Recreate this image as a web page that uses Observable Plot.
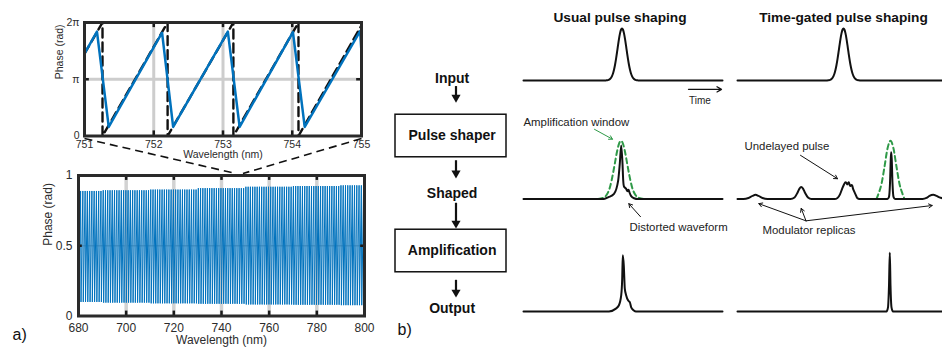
<!DOCTYPE html>
<html><head><meta charset="utf-8">
<script src="https://cdn.jsdelivr.net/npm/d3@7"></script>
<script src="https://cdn.jsdelivr.net/npm/@observablehq/plot@0.6"></script>
<style>
html,body{margin:0;padding:0;background:#fff;}
#fig{position:relative;width:942px;height:349px;overflow:hidden;background:#fff;}
#fig svg{position:absolute;left:0;top:0;}
</style></head><body><div id="fig"></div>
<script>
// ---------------- DATA ----------------
// (a) inset: realised phase (blue) and ideal wrapped phase (dashed), in units of pi
const insetBlueNm = [751, 751.18, 751.35, 752.12, 752.28, 753.07, 753.24, 754.01, 754.18, 754.98, 755];
const insetBluePhasePi = [1.45, 1.84, 0.16, 1.82, 0.16, 1.84, 0.16, 1.83, 0.16, 1.85, 1.47];
const insetIdealNm = [751, 751.26, 751.26, 752.2, 752.2, 753.15, 753.15, 754.09, 754.09, 755];
const insetIdealPhasePi = [1.45, 2, 0, 2, 0, 2, 0, 2, 0, 1.95];
const insetXTicks = [751, 752, 753, 754, 755];
const insetGridNm = [752, 753, 754];
const insetYTickPi = [0, 1, 2];
const insetYTickLabels = ["0", "π", "2π"];
// (a) full spectrum: wrapped phase, normalised 0..1
const wrapPeriodNm = 0.95;      // wrap period
const wrapPeakRefNm = 751.18;   // one wrap (peak) position
const wrapFallNm = 0.17;        // width of the fall after each peak
const envelopeNm = [680, 700, 720, 740, 760, 780, 800];
const envelopePeak = [0.89, 0.895, 0.9, 0.91, 0.92, 0.925, 0.93];
const envelopeTrough = [0.10, 0.095, 0.09, 0.087, 0.082, 0.08, 0.077];
const bottomXTicks = [680, 700, 720, 740, 760, 780, 800];
const bottomGridNm = [700, 720, 740, 760, 780];
const bottomYTicks = [0, 0.5, 1];
const zoomFromNm = [751, 755];
const zoomToNm = [746, 749];
// (b) flow chart
const flowStages = ["Input", "Pulse shaper", "Shaped", "Amplification", "Output"];
const flowBoxStages = [1, 3];
const flowArrowFrom = [0.14, 1.43, 2.17, 3.51];
const flowArrowTo = [0.42, 1.74, 2.61, 3.81];
// (b) waveforms: time (a.u.) and amplitude (input peak = 1)
const inputPulseT = [-18,-16,-14,-12,-10,-9,-8,-7,-6,-5,-4,-3,-2,-1,0,1,2,3,4,5,6,7,8,9,10,12,14,16,18];
const inputPulseA = [0,0.002,0.008,0.029,0.085,0.135,0.206,0.298,0.411,0.539,0.674,0.801,0.906,0.976,1,0.976,0.906,0.801,0.674,0.539,0.411,0.298,0.206,0.135,0.085,0.029,0.008,0.002,0];
const usualShapedT = [-98.5, -18, -13.5, -8, -3.8, -2.2, -0.8, 0.5, 1.2, 2, 4, 5.5, 6.5, 7.5, 9, 12, 16, 100.5];
const usualShapedA = [0, 0, 0.035, 0.1, 0.36, 0.68, 1.03, 0.68, 0.36, 0.24, 0.2, 0.15, 0.18, 0.125, 0.06, 0.015, 0, 0];
const usualWindowT = [-24,-19,-15,-12,-9,-7,-5,-3,-1,1,3,5,7,10,13,17,22];
const usualWindowA = [0,0.02,0.09,0.23,0.49,0.7,0.91,1.06,1.12,1.06,0.91,0.7,0.49,0.23,0.09,0.02,0];
const usualOutputT = [-98.5, -13, -6.5, -3.2, -0.8, 0.2, 0.8, 1.8, 2.8, 4.2, 6.2, 7.8, 9.2, 11.8, 14, 100.5];
const usualOutputA = [0, 0, 0.05, 0.115, 0.31, 0.63, 1.08, 0.88, 0.44, 0.31, 0.21, 0.18, 0.08, 0.02, 0, 0];
const gatedShapedT = [-106,-100,-95,-91,-88,-85,-81,-76,-53,-49,-46,-44,-42.3,-40.5,-38.5,-35.5,-32,-9,-6,-3.5,-1.3,0.5,2,3,3.7,4.5,5.3,6.2,7,8,8.7,9.5,10.3,12,13.7,16,44,45.5,46.5,47.3,47.7,48.2,49,50,51.5,79,83,86,89.7,93,96,99];
const gatedShapedA = [0,0,0.02,0.06,0.08,0.06,0.02,0,0,0.03,0.12,0.2,0.23,0.2,0.12,0.03,0,0,0.02,0.09,0.2,0.28,0.32,0.31,0.28,0.3,0.32,0.27,0.25,0.27,0.26,0.2,0.16,0.09,0.02,0,0,0.04,0.3,0.78,0.9,0.78,0.3,0.04,0,0,0.02,0.06,0.08,0.06,0.03,0.015];
const gatedWindowT = [33,35,38,41,44,47,50,53,56,59,61];
const gatedWindowA = [0,0.1,0.29,0.62,0.97,1.12,0.97,0.62,0.29,0.1,0];
const gatedOutputT = [-106, 43, 44.5, 45.5, 46.3, 47, 48, 49.5, 99];
const gatedOutputA = [0, 0, 0.08, 0.5, 1.13, 0.5, 0.08, 0, 0];

// ---------------- LAYOUT / HELPERS ----------------
const W = 942, H = 349, AMP_PX = 52;
const FONT = "'Liberation Sans', Arial, Helvetica, sans-serif";
const fig = document.getElementById("fig");
const base = {width: W, height: H, style: {background: "transparent", overflow: "visible", fontFamily: FONT, color: "#2b2b2b"}};
function add(p) { p.style.position = "absolute"; p.style.left = "0px"; p.style.top = "0px"; fig.appendChild(p); return p; }
const pts = (xs, ys) => xs.map((x, i) => ({x, y: ys[i]}));
const pulseIn = (t0, t1) => [{x: t0, y: 0}, ...pts(inputPulseT, inputPulseA), {x: t1, y: 0}];
const BLUE = "#0072bd", GREEN = "#2f9a48", INK = "#111";

// ---------------- (a) inset ----------------
const inset = add(Plot.plot({...base,
  marginLeft: 84, marginRight: W - 361, marginTop: 22, marginBottom: H - 135.5,
  x: {domain: [751, 755], label: null}, y: {domain: [0, 2], label: null},
  marks: [
    Plot.ruleX(insetGridNm, {stroke: "#cdcdcd", strokeWidth: 3}),
    Plot.ruleY([1], {stroke: "#cdcdcd", strokeWidth: 3}),
    Plot.line(pts(insetIdealNm, insetIdealPhasePi), {x: "x", y: "y", stroke: INK, strokeWidth: 2.4, strokeDasharray: "9,5", clip: true}),
    Plot.line(pts(insetBlueNm, insetBluePhasePi), {x: "x", y: "y", stroke: BLUE, strokeWidth: 2.5}),
    Plot.ruleX(insetGridNm, {y1: 2, y2: 1.91, stroke: "#1a1a1a", strokeWidth: 2.5}),
    Plot.ruleX(insetGridNm, {y1: 0, y2: 0.09, stroke: "#1a1a1a", strokeWidth: 2.5}),
    Plot.ruleY([1], {x1: 751, x2: 751.07, stroke: "#1a1a1a", strokeWidth: 2.5}),
    Plot.ruleY([1], {x1: 754.93, x2: 755, stroke: "#1a1a1a", strokeWidth: 2.5}),
    Plot.frame({stroke: "#2a2a2a", strokeWidth: 3}),
    Plot.axisX({ticks: insetXTicks, tickSize: 0, tickPadding: 5, fontSize: 10.5, label: null, tickFormat: d => String(d)}),
    Plot.axisY({ticks: insetYTickPi, tickSize: 0, tickPadding: 5, fontSize: 10.5, label: null, tickFormat: d => insetYTickLabels[insetYTickPi.indexOf(d)]}),
    Plot.text(["Wavelength (nm)"], {frameAnchor: "bottom", dy: 21.5, fontSize: 10.5, fill: "#2b2b2b"}),
    Plot.text(["Phase (rad)"], {frameAnchor: "left", dx: -25, rotate: -90, fontSize: 10.5, fill: "#2b2b2b"})
  ]
}));

// ---------------- (a) full spectrum ----------------
const spectrum = [];
{
  const kMin = Math.floor((envelopeNm[0] - wrapPeakRefNm) / wrapPeriodNm) - 1;
  const kMax = Math.ceil((envelopeNm[envelopeNm.length - 1] - wrapPeakRefNm) / wrapPeriodNm) + 1;
  for (let k = kMin; k <= kMax; k++) {
    const p = wrapPeakRefNm + k * wrapPeriodNm;
    const j = d3.minIndex(envelopeNm, e => Math.abs(e - p));
    spectrum.push({x: p, y: envelopePeak[j]}, {x: p + wrapFallNm, y: envelopeTrough[j]});
  }
}
const bottom = add(Plot.plot({...base,
  marginLeft: 78, marginRight: W - 364, marginTop: 175, marginBottom: H - 315.5,
  x: {domain: [680, 800], label: null}, y: {domain: [0, 1], label: null},
  marks: [
    Plot.ruleX(bottomGridNm, {stroke: "#d2d2d2", strokeWidth: 3.5}),
    Plot.ruleY([0.5], {stroke: "#c8c8c8", strokeWidth: 1.5}),
    Plot.line(spectrum, {x: "x", y: "y", stroke: BLUE, strokeWidth: 1, clip: true}),
    Plot.ruleX(bottomGridNm, {y1: 1, y2: 0.965, stroke: "#1a1a1a", strokeWidth: 2.5}),
    Plot.ruleX(bottomGridNm, {y1: 0, y2: 0.035, stroke: "#1a1a1a", strokeWidth: 2.5}),
    Plot.ruleY([0.5], {x1: 680, x2: 681.6, stroke: "#1a1a1a", strokeWidth: 2.5}),
    Plot.ruleY([0.5], {x1: 798.4, x2: 800, stroke: "#1a1a1a", strokeWidth: 2.5}),
    Plot.frame({stroke: "#2a2a2a", strokeWidth: 3}),
    Plot.axisX({ticks: bottomXTicks, tickSize: 0, tickPadding: 7, fontSize: 12, label: null, tickFormat: d => String(d)}),
    Plot.axisY({ticks: bottomYTicks, tickSize: 0, tickPadding: 6, fontSize: 12, label: null, tickFormat: d => String(d)}),
    Plot.text(["Wavelength (nm)"], {frameAnchor: "bottom", dy: 28, fontSize: 12, fill: "#2b2b2b"}),
    Plot.text(["Phase (rad)"], {frameAnchor: "left", dx: -30, rotate: -90, fontSize: 12, fill: "#2b2b2b"}),
    Plot.text(["a)"], {frameAnchor: "bottom-left", dx: -66, dy: 24, textAnchor: "start", fontSize: 16, fill: INK})
  ]
}));

// zoom connectors, positioned from the two plots' own scales
{
  const ix = inset.scale("x"), iy = inset.scale("y"), bx = bottom.scale("x"), by = bottom.scale("y");
  const links = zoomFromNm.map((f, i) => ({x1: ix.apply(f), y1: iy.apply(0) + 2.5, x2: bx.apply(zoomToNm[i]), y2: by.apply(1) - 2}));
  add(Plot.plot({...base, margin: 0, x: {type: "identity"}, y: {type: "identity"},
    marks: [Plot.link(links, {x1: "x1", y1: "y1", x2: "x2", y2: "y2", stroke: INK, strokeWidth: 1.6, strokeDasharray: "8,5"})]}));
}

// ---------------- (b) flow chart ----------------
{
  const arrows = flowArrowFrom.map((y1, i) => ({y1, y2: flowArrowTo[i]}));
  add(Plot.plot({...base,
    marginLeft: 395, marginRight: W - 506, marginTop: 78, marginBottom: H - 308,
    x: {domain: [-1, 1], axis: null}, y: {domain: [0, 4], reverse: true, axis: null},
    marks: [
      Plot.rect(flowBoxStages, {x1: -1, x2: 1, y1: d => d - 0.37, y2: d => d + 0.37, fill: "none", stroke: INK, strokeWidth: 1.5}),
      Plot.ruleX(arrows, {x: 0.09, y1: "y1", y2: d => d.y2 - 0.09, stroke: INK, strokeWidth: 2.2}),
      Plot.dot(arrows, {x: 0.09, y: d => d.y2 - 0.092, symbol: "triangle", r: 3.4, fill: INK, stroke: "none", rotate: 180}),
      Plot.text(flowStages, {x: 0.02, y: (d, i) => i, fontSize: 14, fontWeight: "bold", fill: INK}),
      Plot.text(["b)"], {frameAnchor: "bottom-left", dx: 2, dy: 26, textAnchor: "start", fontSize: 16, fill: INK})
    ]
  }));
}

// ---------------- (b) waveform panels ----------------
function panel(domain, left, right, baseline, marks) {
  return add(Plot.plot({...base,
    marginLeft: left, marginRight: W - right, marginTop: baseline - AMP_PX, marginBottom: H - baseline,
    x: {domain, axis: null}, y: {domain: [0, 1], axis: null}, marks}));
}
const USUAL = [-98.5, 100.5], GATED = [-106, 99];
const wave = (data, extra = {}) => Plot.line(data, {x: "x", y: "y", stroke: INK, strokeWidth: 2, curve: "monotone-x", strokeLinejoin: "round", ...extra});
const win = data => Plot.line(data, {x: "x", y: "y", stroke: GREEN, strokeWidth: 2, strokeDasharray: "5,3.5", curve: "monotone-x"});
const note = (txt, x, y, anchor = "start") => Plot.text([txt], {x: () => x, y: () => y, textAnchor: anchor, fontSize: 11.4, fill: "#222"});
const arrow = (list, stroke = INK, w = 1) => Plot.arrow(list, {x1: d => d[0], y1: d => d[1], x2: d => d[2], y2: d => d[3], stroke, strokeWidth: w, headLength: 6});

// row 1: input
panel(USUAL, 523, 722, 80, [
  wave(pulseIn(...USUAL)),
  Plot.text(["Usual pulse shaping"], {x: () => -2, y: () => 1.21, fontSize: 13.7, fontWeight: "bold", fill: INK}),
  arrow([[66.5, -0.17, 99.5, -0.17]], INK, 1.3),
  Plot.text(["Time"], {x: () => 78, y: () => -0.39, fontSize: 10, fill: "#222"})
]);
panel(GATED, 737, 942, 80, [
  wave(pulseIn(...GATED)),
  Plot.text(["Time-gated pulse shaping"], {x: () => 0, y: () => 1.21, fontSize: 13.7, fontWeight: "bold", fill: INK})
]);
// row 2: shaped
panel(USUAL, 523, 722, 198.5, [
  win(pts(usualWindowT, usualWindowA)),
  wave(pts(usualShapedT, usualShapedA)),
  note("Amplification window", -98.5, 1.47),
  arrow([[-27.5, 1.34, -9.5, 1.15]], GREEN),
  note("Distorted waveform", 7.5, -0.55),
  arrow([[18.5, -0.34, 6.8, -0.09]])
]);
panel(GATED, 737, 942, 198.5, [
  win(pts(gatedWindowT, gatedWindowA)),
  wave(pts(gatedShapedT, gatedShapedA)),
  note("Undelayed pulse", -99, 1.01),
  arrow([[-43, 0.84, -6, 0.39]]),
  note("Modulator replicas", -34.5, -0.61, "middle"),
  arrow([[-37.5, -0.42, -84.7, -0.09], [-37.5, -0.42, -42.3, -0.18], [-37.5, -0.42, 88.7, -0.125]])
]);
// row 3: output
panel(USUAL, 523, 722, 311, [wave(pts(usualOutputT, usualOutputA))]);
panel(GATED, 737, 942, 311, [wave(pts(gatedOutputT, gatedOutputA))]);
</script>
</body></html>
